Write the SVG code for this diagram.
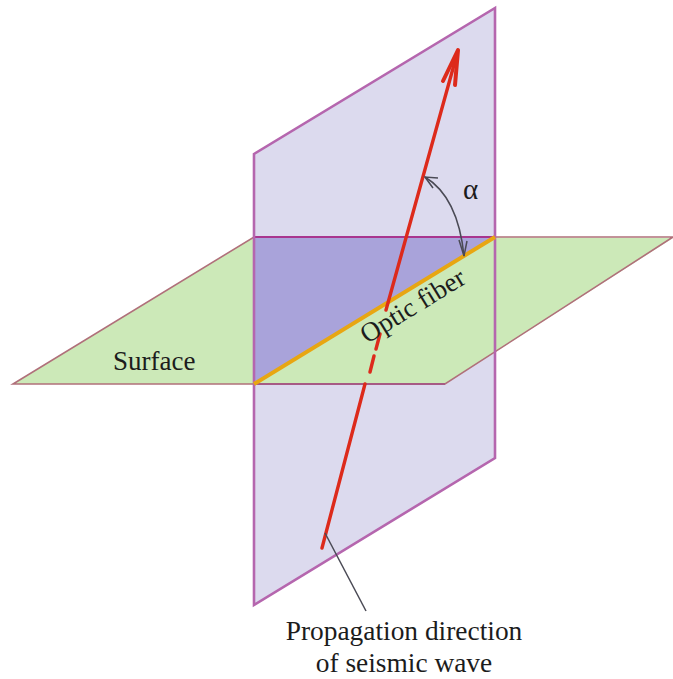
<svg xmlns="http://www.w3.org/2000/svg" width="673" height="679" viewBox="0 0 673 679">
<style>
text{font-family:"Liberation Serif","Times New Roman",serif;fill:#1c1c1c}
.lbl{font-size:27px}
.red{fill:none;stroke:#dd2a1b;stroke-width:3.4;stroke-linecap:round;stroke-linejoin:round}
.thin{fill:none;stroke:#4a4a55;stroke-width:1.5}
</style>
<rect width="673" height="679" fill="#ffffff"/>
<g id="vertical-plane">
<polygon points="254,154 495,8 495,458 254,605" fill="#dcdaee"/>
</g>
<g id="surface-plane">
<polygon points="13,384 254,237 673,238 445,384" fill="#cce9b8"/>
<polygon points="254,237 495,237 254,384" fill="#a9a3da"/>
<path d="M254,237H673L445,384H13Z" fill="none" stroke="#b0707a" stroke-width="1.6"/>
<path d="M254,237H495" fill="none" stroke="#a8358f" stroke-width="2"/>
<path d="M254,384H445" fill="none" stroke="#a04a80" stroke-width="1.6"/>
</g>
<g id="vertical-plane-edge">
<path d="M254,154L495,8V458L254,605Z" fill="none" stroke="#b566ae" stroke-width="2.6"/>
</g>
<g id="optic-fiber">
<path d="M254,384L495,237" fill="none" stroke="#e8a612" stroke-width="4"/>
</g>
<g id="connectors">
<path class="red" d="M322,548L365,384M370,372L374,356M376,349L380,334M386,310L457,54"/>
<path class="red" style="stroke-width:4" d="M443,81L458,50L455,85"/>
<path class="thin" d="M425,177Q458,197 464,256"/>
<path class="thin" d="M438,178L425,177L433,188M459,240L464,256L467,241"/>
<path class="thin" d="M325,533L366,611"/>
</g>
<g id="labels">
<text class="lbl" x="113" y="370">Surface</text>
<text class="lbl" x="463" y="199" style="font-size:29px">α</text>
<text class="lbl" transform="translate(367,344) rotate(-31.5)">Optic fiber</text>
<text class="lbl" x="404" y="640" text-anchor="middle" style="font-size:27.4px">Propagation direction</text>
<text class="lbl" x="404" y="672" text-anchor="middle" style="font-size:27.4px">of seismic wave</text>
</g>
</svg>
